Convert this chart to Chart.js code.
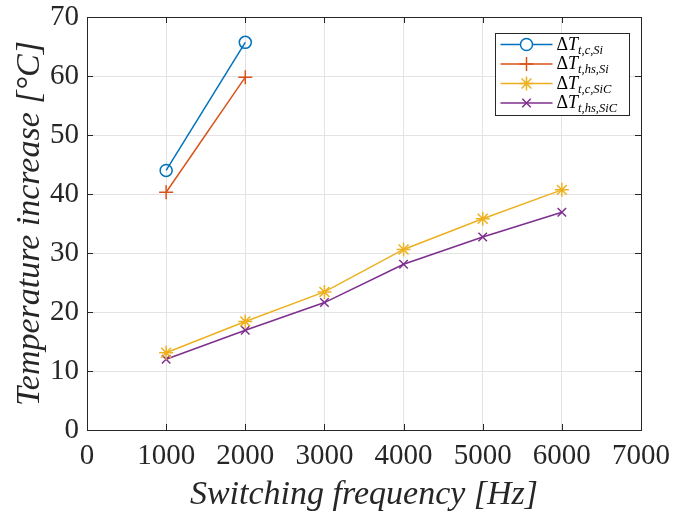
<!DOCTYPE html>
<html>
<head>
<meta charset="utf-8">
<script src="https://cdn.jsdelivr.net/npm/chart.js@4/dist/chart.umd.min.js"></script>
<style>
  html, body { margin: 0; padding: 0; background: #fff; }
  #wrap { width: 673px; height: 518px; }
</style>
</head>
<body>
<div id="wrap"><canvas id="tempChart"></canvas></div>
<script>
const freqSi = [1000, 2000];
const freqSiC = [1000, 2000, 3000, 4000, 5000, 6000];
const tcSi = [44.0, 65.7];
const thsSi = [40.3, 59.8];
const tcSiC = [13.1, 18.4, 23.4, 30.6, 35.8, 40.7];
const thsSiC = [12.0, 16.9, 21.6, 28.1, 32.7, 36.9];
const seriesSubs = ['t,c,Si', 't,hs,Si', 't,c,SiC', 't,hs,SiC'];

const colors = ['#0072BD', '#D95319', '#EDB120', '#7E2F8E'];
const styles = ['circle', 'cross', 'star', 'crossRot'];
const radii = [6, 7, 7, 6];

function pts(xs, ys) {
    return xs.map((x, i) => ({ x: x, y: ys[i] }));
}

function createDataset(i, xs, ys) {
    return {
        label: 'ΔT ' + seriesSubs[i],
        data: pts(xs, ys),
        borderColor: colors[i],
        backgroundColor: 'rgba(0,0,0,0)',
        pointBorderColor: colors[i],
        borderWidth: 1.5,
        pointBorderWidth: 1.5,
        pointStyle: styles[i],
        pointRadius: radii[i],
        fill: false,
        tension: 0
    };
}

// box, inward ticks and legend, MATLAB style
const matlabBox = {
    id: 'matlabBox',
    afterDatasetsDraw(chart) {
        const { ctx, chartArea: a, scales } = chart;
        ctx.save();
        ctx.strokeStyle = '#262626';
        ctx.lineWidth = 1;
        ctx.beginPath();
        scales.x.ticks.forEach(t => {
            const px = Math.round(scales.x.getPixelForValue(t.value)) + 0.5;
            ctx.moveTo(px, a.bottom); ctx.lineTo(px, a.bottom - 6);
            ctx.moveTo(px, a.top); ctx.lineTo(px, a.top + 6);
        });
        scales.y.ticks.forEach(t => {
            const py = Math.round(scales.y.getPixelForValue(t.value)) + 0.5;
            ctx.moveTo(a.left, py); ctx.lineTo(a.left + 6, py);
            ctx.moveTo(a.right, py); ctx.lineTo(a.right - 6, py);
        });
        ctx.stroke();
        ctx.strokeRect(Math.round(a.left) + 0.5, Math.round(a.top) + 0.5,
            Math.round(a.right - a.left), Math.round(a.bottom - a.top));

        // legend
        const lx = 495.5, ly = 33.5, lw = 134, lh = 82;
        ctx.fillStyle = '#fff';
        ctx.fillRect(lx, ly, lw, lh);
        ctx.strokeStyle = '#262626';
        ctx.strokeRect(lx, ly, lw, lh);
        chart.data.datasets.forEach((ds, i) => {
            const y = ly + 11 + i * 19.5;
            ctx.strokeStyle = ds.borderColor;
            ctx.lineWidth = 1.5;
            ctx.beginPath();
            ctx.moveTo(lx + 5, y); ctx.lineTo(lx + 57, y);
            ctx.stroke();
            Chart.helpers.drawPoint(ctx, {
                pointStyle: ds.pointStyle, radius: ds.pointRadius, borderWidth: 1.5, rotation: 0
            }, lx + 31, y);
            ctx.fillStyle = '#000';
            ctx.textBaseline = 'alphabetic';
            ctx.textAlign = 'left';
            const tx = lx + 61;
            ctx.font = '18px "Liberation Serif"';
            ctx.fillText('Δ', tx, y + 5);
            const w1 = ctx.measureText('Δ').width;
            ctx.font = 'italic 18px "Liberation Serif"';
            ctx.fillText('T', tx + w1, y + 5);
            const w2 = ctx.measureText('T').width;
            ctx.font = 'italic 12.5px "Liberation Serif"';
            ctx.fillText(seriesSubs[i], tx + w1 + w2, y + 9);
        });
        ctx.restore();
    }
};

const ctx = document.getElementById('tempChart').getContext('2d');
const tickFont = { family: '"Liberation Serif", serif', size: 29 };
const titleFont = { family: '"Liberation Serif", serif', size: 34, style: 'italic' };

const config = {
    type: 'line',
    data: {
        datasets: [
            createDataset(0, freqSi, tcSi),
            createDataset(1, freqSi, thsSi),
            createDataset(2, freqSiC, tcSiC),
            createDataset(3, freqSiC, thsSiC)
        ]
    },
    options: {
        responsive: true,
        maintainAspectRatio: false,
        animation: false,
        layout: { padding: { left: 0, right: 32, top: 17, bottom: 0 } },
        plugins: {
            legend: { display: false },
            tooltip: { enabled: false }
        },
        scales: {
            x: {
                type: 'linear',
                min: 0,
                max: 7000,
                ticks: { stepSize: 1000, color: '#262626', font: tickFont, padding: 9, maxRotation: 0,
                    callback: v => String(v) },
                grid: { color: '#e3e3e3', drawTicks: false },
                border: { display: false },
                title: { display: true, text: 'Switching frequency [Hz]', color: '#262626', font: titleFont, padding: { top: 2, bottom: 3 } },
                afterFit(s) { s.height = 88; s.paddingLeft = 0; s.paddingRight = 0; }
            },
            y: {
                min: 0,
                max: 70,
                ticks: { stepSize: 10, color: '#262626', font: tickFont, padding: 8,
                    callback: v => String(v) },
                grid: { color: '#e3e3e3', drawTicks: false },
                border: { display: false },
                title: { display: true, text: 'Temperature increase [°C]', color: '#262626', font: titleFont, padding: { top: 10, bottom: 0 } },
                afterFit(s) { s.width = 87; s.paddingTop = 0; s.paddingBottom = 0; }
            }
        }
    },
    plugins: [matlabBox]
};

const tempChart = new Chart(ctx, config);
</script>
</body>
</html>
